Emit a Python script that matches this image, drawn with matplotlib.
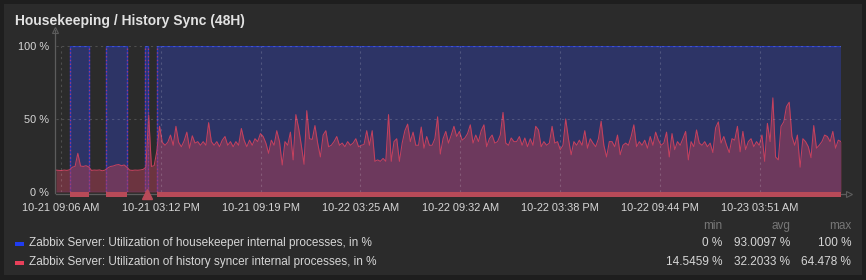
import numpy as np
import matplotlib
matplotlib.use("Agg")
import matplotlib.pyplot as plt
from matplotlib.patches import Rectangle

# time axis: hours since 10-21 08:48, 48h window
tick_hours = [0.30, 6.40, 12.517, 18.617, 24.733, 30.833, 36.933, 43.05]
tick_labels = ["10-21 09:06 AM", "10-21 03:12 PM", "10-21 09:19 PM", "10-22 03:25 AM",
               "10-22 09:32 AM", "10-22 03:38 PM", "10-22 09:44 PM", "10-23 03:51 AM"]

# housekeeper utilization, step data (edges in hours, value per interval)
hk_edges = [0, 0.86, 2.02, 3.06, 4.34, 5.44, 5.63, 6.18, 48]
hk_state = [0, 100, 0, 100, 0, 100, 0, 100]

# history syncer utilization, one value every 10 minutes
hs_step = 1 / 6
hs_early = [15.0, 14.8, 14.7, 15.0, 14.8, 15.2, 17.0, 17.5, 26.5, 17.8, 17.5, 18.0, 17.2,
            14.8, 15.0, 14.9, 15.1, 14.55, 15.0, 16.5, 17.5, 17.8, 18.5, 18.8, 18.0, 18.5,
            17.0, 15.0, 14.8, 15.0, 14.9, 15.1, 15.5, 17.0, 52.7, 17.5, 18.0, 28.0]
hs_day1 = [45, 34, 32, 34, 39, 32, 45, 34, 31, 35, 41, 30, 38.5, 33.5, 34.5, 32, 34.5, 32,
           47.5, 34.5, 32, 34.5, 31, 35.5, 38, 32, 34.5, 31, 34.5, 32, 43.5, 35.5, 31, 35.5,
           32, 36.5, 34.5, 40, 38, 33.5, 26.5, 35.5, 32, 42, 34.5, 18.5, 34.5, 32, 41, 22,
           53, 44, 32, 19, 55.7, 36.5, 36, 45.5, 33.5, 24, 39, 42, 31, 32, 34.5, 38, 32,
           33.5, 31, 34.5, 32, 33.5, 36.5, 31, 32, 32.5, 42, 32, 42, 21, 22, 21, 23]
hs_day2 = [21, 53, 21, 34.5, 36.5, 21, 33.5, 42, 46.5, 34.5, 41, 32, 32, 44.5, 30, 38, 32,
           32, 36.5, 51.5, 26, 36.5, 41.5, 33.5, 39, 45, 38, 41.5, 35.5, 37, 40, 46, 33.5,
           39, 34.5, 42, 46, 31, 36.5, 39, 33.5, 34.5, 39, 54.5, 33.5, 32, 37, 34.5, 34.5,
           38, 32, 37, 31, 36.5, 32, 45, 42.5, 31, 34.5, 32, 33.5, 45, 33.5, 34.5, 29, 32,
           50, 36.5, 25.5, 34.5, 32, 35.5, 32, 42, 30, 36.5, 33.5, 31, 36.5, 48.5, 32, 24,
           34.5, 34.5, 31]
hs_day3 = [39, 25.5, 32, 33.5, 32, 38, 46, 31, 34.5, 32, 35.5, 30, 38, 32, 41, 35.5, 32,
           33.5, 41, 24, 40, 29, 34.5, 32, 36.5, 41.5, 22, 34.5, 31, 42.5, 33.5, 32, 34.5,
           31, 33.5, 27, 44, 48, 33.5, 38, 32, 27, 36.5, 35.5, 45, 27.5, 41.5, 29, 34.5,
           36.5, 31, 34.5, 32, 39, 21, 47, 34.5, 64.478, 24, 22, 45, 48, 58.5, 61.5, 38,
           32, 39, 17, 36.5, 34.5, 31, 23.5, 45.5, 30, 32, 34.5, 39, 38, 34.5, 41.5, 30,
           35.5, 34.5]

series_names = ["Zabbix Server: Utilization of housekeeper internal processes, in %",
                "Zabbix Server: Utilization of history syncer internal processes, in %"]
stat_heads = ["min", "avg", "max"]
hk_stats = ["0 %", "93.0097 %", "100 %"]
hs_stats = ["14.5459 %", "32.2033 %", "64.478 %"]

hs_values = np.array(hs_early + hs_day1 + hs_day2 + hs_day3)
hs_time = np.arange(len(hs_values)) * hs_step

W, H = 866, 280
font = "Liberation Sans"
txt = "#d6d6d6"

fig = plt.figure(figsize=(W / 100, H / 100), dpi=100)
fig.patch.set_facecolor("#1e1e1e")
fig.add_artist(Rectangle((4 / W, 5 / H), 858 / W, 271 / H, transform=fig.transFigure,
                         fc="#2b2b2b", ec="none", zorder=-10))

ax = fig.add_axes([56 / W, 88 / H, 785 / W, 146 / H])
ax.set_facecolor("none")
ax.set_xlim(0, 48)
ax.set_ylim(0, 100)

# housekeeper: blue filled steps
ax.stairs(hk_state, hk_edges, fill=True, color="#2d3466", zorder=1)
ax.stairs(hk_state, hk_edges, color="#2438b8", lw=1.0, baseline=None, zorder=2)
# dotted markers on the step edges
for e in hk_edges[1:-1]:
    ax.axvline(e, color="#a03c78", lw=0.9, ls=(0, (1.2, 1.8)), zorder=4)

# history syncer: translucent red area + line
ax.fill_between(hs_time, hs_values, 0, color="#ae3e55", alpha=0.5, lw=0, zorder=3)
ax.plot(hs_time, hs_values, color="#c4415e", lw=0.75, zorder=3)

# grid
grid_kw = dict(color="#ffffff", alpha=0.17, lw=0.8, ls=(0, (2, 3)), zorder=5)
for t in tick_hours:
    ax.axvline(t, **grid_kw)
for v in [50, 100]:
    ax.axhline(v, **grid_kw)

# red band under the axis where housekeeper is active
for i, v in enumerate(hk_state):
    if v == 0:
        continue
    t0, t1 = hk_edges[i], hk_edges[i + 1]
    if t1 - t0 > 0.5:
        ax.add_patch(Rectangle((t0, -3.3), t1 - t0, 3.3, fc="#b84a58", ec="none",
                               clip_on=False, zorder=6))
    else:
        ax.plot((t0 + t1) / 2, -1.6, marker="^", ms=7, color="#b84a58",
                clip_on=False, zorder=6)

# axis lines with arrows
ax.plot([-0.06, -0.06], [-1, 111], color="#5c5c5c", lw=0.9, clip_on=False, zorder=7)
ax.plot(-0.06, 111, marker="^", ms=5, mfc="none", mec="#5c5c5c", mew=0.8,
        clip_on=False, zorder=7)
ax.plot([0, 48.3], [-1.6, -1.6], color="#5c5c5c", lw=0.9, clip_on=False, zorder=5)
ax.plot(48.5, -1.6, marker=">", ms=5, mfc="none", mec="#5c5c5c", mew=0.8,
        clip_on=False, zorder=7)

for s in ax.spines.values():
    s.set_visible(False)
ax.set_yticks([0, 50, 100], ["0 %", "50 %", "100 %"])
ax.set_xticks(tick_hours, tick_labels)
ax.tick_params(length=0, colors=txt, labelsize=7.9)
ax.tick_params(axis="x", pad=8)
ax.tick_params(axis="y", pad=5)
for lab in ax.get_xticklabels() + ax.get_yticklabels():
    lab.set_fontfamily(font)

# title
fig.text(15 / W, 1 - 21 / H, "Housekeeping / History Sync (48H)", fontsize=10,
         fontweight="bold", color="#e2e2e2", family=font, va="center")

# legend table
col_right = [722, 790, 851]
for x, h in zip(col_right, stat_heads):
    fig.text(x / W, 1 - 226 / H, h, fontsize=8.5, color="#777777", family=font,
             ha="right", va="center")
rows = [(243, "#1f3cf0", series_names[0], hk_stats),
        (262, "#e8405a", series_names[1], hs_stats)]
for y, c, name, stats in rows:
    fig.add_artist(Rectangle((15 / W, 1 - (y + 2.5) / H), 9 / W, 4 / H,
                             transform=fig.transFigure, fc=c, ec="none"))
    fig.text(29 / W, 1 - y / H, name, fontsize=8.5, color=txt, family=font, va="center")
    for x, s in zip(col_right, stats):
        fig.text(x / W, 1 - y / H, s, fontsize=8.5, color=txt, family=font,
                 ha="right", va="center")

fig.savefig("out.png", dpi=100, facecolor=fig.get_facecolor())
